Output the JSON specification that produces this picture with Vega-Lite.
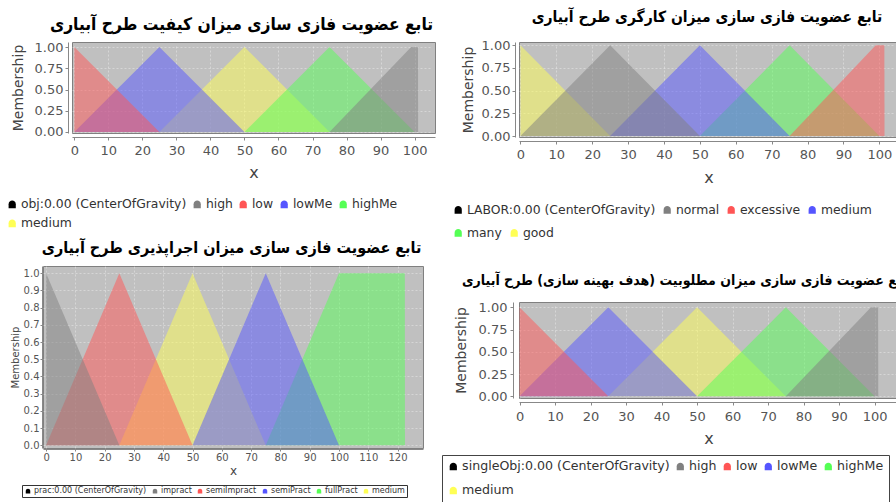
{
  "$schema": "https://vega.github.io/schema/vega-lite/v6.json",
  "background": "white",
  "padding": {"left": 5, "top": 9, "right": 0, "bottom": 0},
  "config": {
    "view": {"fill": "#c0c0c0", "stroke": "#808080", "strokeWidth": 1},
    "axis": {"grid": true, "gridColor": "#ffffff", "gridDash": [2, 2], "gridOpacity": 0.35, "domainColor": "#888888", "tickColor": "#888888", "tickSize": 3, "labelColor": "#555555", "titleColor": "#444444", "labelFont": "DejaVu Sans", "titleFont": "DejaVu Sans", "titleFontWeight": "normal", "labelFlush": false, "labelOverlap": false, "offset": 4, "labelPadding": 2},
    "legend": {"labelFont": "DejaVu Sans", "labelColor": "#333333", "labelLimit": 400, "symbolType": "M-0.9,1L-0.9,0C-0.9,-1.2,0.9,-1.2,0.9,0L0.9,1Z", "symbolStrokeWidth": 0, "symbolOpacity": 1, "orient": "none", "direction": "horizontal", "gridAlign": "none", "labelOffset": 2.5},
    "title": {"font": "DejaVu Sans Condensed", "fontWeight": "bold", "color": "#000000", "frame": "group", "anchor": "middle"}
  },
  "datasets": {
    "q": [
      {"s": "medium", "x": 25, "y": 0}, {"s": "medium", "x": 50, "y": 1}, {"s": "medium", "x": 75, "y": 0},
      {"s": "highMe", "x": 50, "y": 0}, {"s": "highMe", "x": 75, "y": 1}, {"s": "highMe", "x": 100, "y": 0},
      {"s": "lowMe", "x": 0, "y": 0}, {"s": "lowMe", "x": 25, "y": 1}, {"s": "lowMe", "x": 50, "y": 0},
      {"s": "low", "x": 0, "y": 1}, {"s": "low", "x": 25, "y": 0},
      {"s": "high", "x": 75, "y": 0}, {"s": "high", "x": 99, "y": 1}, {"s": "high", "x": 101, "y": 1}, {"s": "high", "x": 101.05, "y": 0}
    ],
    "l": [
      {"s": "good", "x": 0, "y": 1}, {"s": "good", "x": 25, "y": 0},
      {"s": "many", "x": 50, "y": 0}, {"s": "many", "x": 75, "y": 1}, {"s": "many", "x": 100, "y": 0},
      {"s": "medium", "x": 25, "y": 0}, {"s": "medium", "x": 50, "y": 1}, {"s": "medium", "x": 75, "y": 0},
      {"s": "excessive", "x": 75, "y": 0}, {"s": "excessive", "x": 99, "y": 1}, {"s": "excessive", "x": 101.4, "y": 1}, {"s": "excessive", "x": 101.45, "y": 0},
      {"s": "normal", "x": 0, "y": 0}, {"s": "normal", "x": 25, "y": 1}, {"s": "normal", "x": 50, "y": 0}
    ],
    "p": [
      {"s": "medium", "x": 25, "y": 0}, {"s": "medium", "x": 50, "y": 1}, {"s": "medium", "x": 75, "y": 0},
      {"s": "fullPract", "x": 75, "y": 0}, {"s": "fullPract", "x": 100, "y": 1}, {"s": "fullPract", "x": 122.5, "y": 1}, {"s": "fullPract", "x": 122.55, "y": 0},
      {"s": "semiPract", "x": 50, "y": 0}, {"s": "semiPract", "x": 75, "y": 1}, {"s": "semiPract", "x": 100, "y": 0},
      {"s": "semiImpract", "x": 0, "y": 0}, {"s": "semiImpract", "x": 25, "y": 1}, {"s": "semiImpract", "x": 50, "y": 0},
      {"s": "impract", "x": 0, "y": 1}, {"s": "impract", "x": 25, "y": 0}
    ],
    "o": [
      {"s": "medium", "x": 25, "y": 0}, {"s": "medium", "x": 50, "y": 1}, {"s": "medium", "x": 75, "y": 0},
      {"s": "highMe", "x": 50, "y": 0}, {"s": "highMe", "x": 75, "y": 1}, {"s": "highMe", "x": 100, "y": 0},
      {"s": "lowMe", "x": 0, "y": 0}, {"s": "lowMe", "x": 25, "y": 1}, {"s": "lowMe", "x": 50, "y": 0},
      {"s": "low", "x": 0, "y": 1}, {"s": "low", "x": 25, "y": 0},
      {"s": "high", "x": 75, "y": 0}, {"s": "high", "x": 99, "y": 1}, {"s": "high", "x": 101, "y": 1}, {"s": "high", "x": 101.05, "y": 0}
    ]
  },
  "resolve": {"scale": {"color": "independent", "fill": "independent"}, "legend": {"color": "independent", "fill": "independent"}},
  "spacing": 5,
  "hconcat": [
    {
      "resolve": {"scale": {"color": "independent"}, "legend": {"color": "independent"}},
      "spacing": 8,
      "vconcat": [
        {
          "resolve": {"scale": {"color": "independent"}, "legend": {"color": "independent"}},
          "bounds": "flush",
          "spacing": 28,
          "hconcat": [
            {"width": 1, "height": 1, "data": {"values": []}, "mark": {"type": "point", "opacity": 0}, "view": {"fill": null, "stroke": null}},
            {
              "width": 363, "height": 91,
              "title": {"text": "تابع عضویت فازی سازی میزان کیفیت طرح آبیاری", "fontSize": 17.3, "offset": 8, "dx": -12},
              "data": {"name": "q"},
              "mark": {"type": "area", "opacity": 0.5},
              "encoding": {
                "x": {"field": "x", "type": "quantitative", "scale": {"domain": [-0.68, 106], "nice": false, "zero": false},
                      "axis": {"values": [0, 10, 20, 30, 40, 50, 60, 70, 80, 90, 100], "format": "d", "title": "x", "titleFontSize": 16, "labelFontSize": 13, "labelPadding": 4, "titlePadding": 7}},
                "y": {"field": "y", "type": "quantitative", "stack": null, "scale": {"domain": [-0.012, 1.06], "nice": false, "zero": false},
                      "axis": {"values": [0, 0.25, 0.5, 0.75, 1], "format": ".2f", "title": "Membership", "titleFontSize": 14, "labelFontSize": 13, "titlePadding": 9}},
                "color": {"field": "s", "type": "nominal",
                          "scale": {"domain": ["obj:0.00 (CenterOfGravity)", "high", "low", "lowMe", "highMe", "medium"], "range": ["#000000", "#808080", "#ff5555", "#5555ff", "#55ff55", "#ffff55"]},
                          "legend": {"title": null, "legendX": -66, "legendY": 156, "columns": 5, "gridAlign": "none", "labelFontSize": 12.4, "symbolSize": 64, "columnPadding": 4, "rowPadding": 6, "padding": 0}}
              }
            }
          ]
        },
        {
          "width": 380, "height": 182,
          "title": {"text": "تابع عضویت فازی سازی میزان اجراپذیری طرح آبیاری", "fontSize": 16, "offset": 10, "dx": -1.5},
          "data": {"name": "p"},
          "mark": {"type": "area", "opacity": 0.5},
          "encoding": {
            "x": {"field": "x", "type": "quantitative", "scale": {"domain": [-1.06, 128.7], "nice": false, "zero": false},
                  "axis": {"values": [0, 10, 20, 30, 40, 50, 60, 70, 80, 90, 100, 110, 120], "format": "d", "title": "x", "titleFontSize": 12, "labelFontSize": 10, "offset": 1, "tickSize": 2, "labelPadding": 1, "titlePadding": 3}},
            "y": {"field": "y", "type": "quantitative", "stack": null, "scale": {"domain": [-0.0157, 1.042], "nice": false, "zero": false},
                  "axis": {"values": [0, 0.1, 0.2, 0.3, 0.4, 0.5, 0.6, 0.7, 0.8, 0.9, 1], "format": ".1f", "title": "Membership", "titleFontSize": 10, "labelFontSize": 10, "offset": 1, "tickSize": 2, "labelPadding": 1, "titlePadding": 3}},
            "color": {"field": "s", "type": "nominal",
                      "scale": {"domain": ["prac:0.00 (CenterOfGravity)", "impract", "semiImpract", "semiPract", "fullPract", "medium"], "range": ["#000000", "#808080", "#ff5555", "#5555ff", "#55ff55", "#ffff55"]},
                      "legend": {"title": null, "legendX": -21, "legendY": 219, "columns": 6, "gridAlign": "none", "labelFontSize": 8, "symbolSize": 25, "columnPadding": 4, "rowPadding": 2, "padding": 2, "strokeColor": "#333333", "labelOffset": 2}}
          }
        }
      ]
    },
    {
      "resolve": {"scale": {"color": "independent", "fill": "independent"}, "legend": {"color": "independent", "fill": "independent"}},
      "spacing": 33,
      "vconcat": [
        {
          "width": 379, "height": 95,
          "title": {"text": "تابع عضویت فازی سازی میزان کارگری طرح آبیاری", "fontSize": 15.5, "offset": 14, "dx": -1.5},
          "data": {"name": "l"},
          "encoding": {
            "x": {"field": "x", "type": "quantitative", "scale": {"domain": [-0.4, 105.2], "nice": false, "zero": false},
                  "axis": {"values": [0, 10, 20, 30, 40, 50, 60, 70, 80, 90, 100], "format": "d", "title": "x", "titleFontSize": 16, "labelFontSize": 13, "labelPadding": 4, "titlePadding": 8}},
            "y": {"field": "y", "type": "quantitative", "stack": null, "scale": {"domain": [-0.011, 1.036], "nice": false, "zero": false},
                  "axis": {"values": [0, 0.25, 0.5, 0.75, 1], "format": ".2f", "title": "Membership", "titleFontSize": 14, "labelFontSize": 13, "titlePadding": 6}}
          },
          "layer": [
            {
              "mark": {"type": "area", "opacity": 0.5},
              "encoding": {
                "color": {"field": "s", "type": "nominal",
                          "scale": {"domain": ["LABOR:0.00 (CenterOfGravity)", "normal", "excessive", "medium", "many", "good"], "range": ["#000000", "#808080", "#ff5555", "#5555ff", "#55ff55", "#ffff55"]},
                          "legend": {"title": null, "values": ["LABOR:0.00 (CenterOfGravity)", "normal", "excessive", "medium"], "legendX": -67, "legendY": 161.5, "columns": 4, "labelFontSize": 12.4, "symbolSize": 64, "columnPadding": 5, "padding": 0}}
              }
            },
            {
              "mark": {"type": "point", "filled": true, "opacity": 0},
              "encoding": {
                "fill": {"field": "s", "type": "nominal",
                         "scale": {"domain": ["many", "good"], "range": ["#55ff55", "#ffff55"]},
                         "legend": {"title": null, "legendX": -67, "legendY": 184.5, "columns": 2, "labelFontSize": 12.4, "symbolSize": 64, "symbolOpacity": 1, "symbolType": "M-0.9,1L-0.9,0C-0.9,-1.2,0.9,-1.2,0.9,0L0.9,1Z", "columnPadding": 6, "padding": 0}}
              }
            }
          ]
        },
        {
          "width": 379, "height": 96,
          "title": {"text": "تابع عضویت فازی سازی میزان مطلوبیت (هدف بهینه سازی) طرح آبیاری", "fontSize": 14, "offset": 13, "dx": -22},
          "data": {"name": "o"},
          "mark": {"type": "area", "opacity": 0.5},
          "encoding": {
            "x": {"field": "x", "type": "quantitative", "scale": {"domain": [-0.15, 106.6], "nice": false, "zero": false},
                  "axis": {"values": [0, 10, 20, 30, 40, 50, 60, 70, 80, 90, 100], "format": "d", "title": "x", "titleFontSize": 16, "labelFontSize": 13, "labelPadding": 5, "titlePadding": 7}},
            "y": {"field": "y", "type": "quantitative", "stack": null, "scale": {"domain": [-0.019, 1.06], "nice": false, "zero": false},
                  "axis": {"values": [0, 0.25, 0.5, 0.75, 1], "format": ".2f", "title": "Membership", "titleFontSize": 14, "labelFontSize": 13, "offset": 6, "labelPadding": 3, "titlePadding": 10}},
            "color": {"field": "s", "type": "nominal",
                      "scale": {"domain": ["singleObj:0.00 (CenterOfGravity)", "high", "low", "lowMe", "highMe", "medium"], "range": ["#000000", "#808080", "#ff5555", "#5555ff", "#55ff55", "#ffff55"]},
                      "legend": {"title": null, "legendX": -77, "legendY": 153, "columns": 5, "gridAlign": "none", "labelFontSize": 12.6, "symbolSize": 64, "columnPadding": 4, "rowPadding": 11, "padding": 5, "strokeColor": "#444444"}}
          }
        }
      ]
    }
  ]
}
